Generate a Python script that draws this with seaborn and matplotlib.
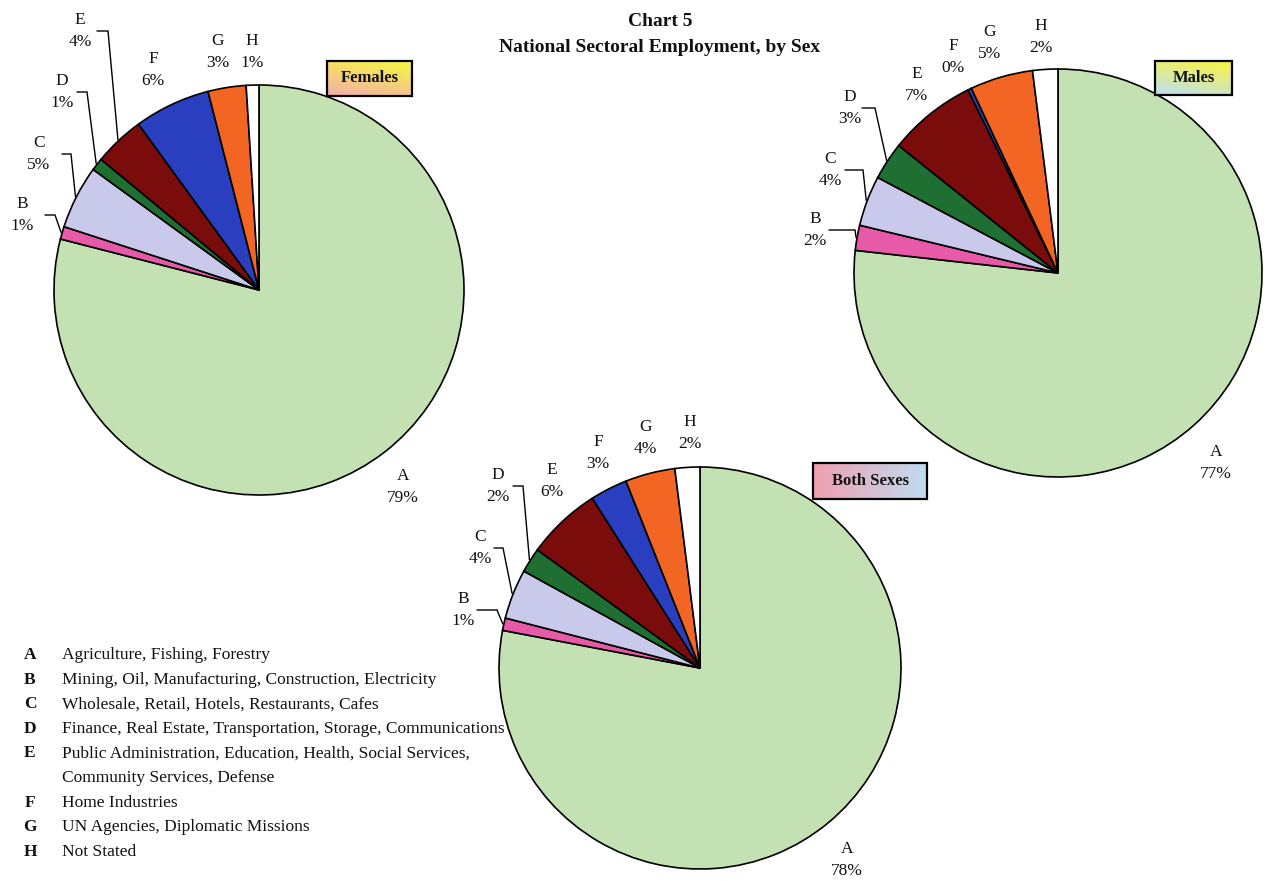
import numpy as np
import matplotlib
matplotlib.use("Agg")
import matplotlib.pyplot as plt
from matplotlib.patches import Rectangle
import seaborn as sns

# ---------------- data ----------------
categories = ["A", "B", "C", "D", "E", "F", "G", "H"]
descriptions = [
    "Agriculture, Fishing, Forestry",
    "Mining, Oil, Manufacturing, Construction, Electricity",
    "Wholesale, Retail, Hotels, Restaurants, Cafes",
    "Finance, Real Estate, Transportation, Storage, Communications",
    "Public Administration, Education, Health, Social Services,\nCommunity Services, Defense",
    "Home Industries",
    "UN Agencies, Diplomatic Missions",
    "Not Stated",
]
females = [79, 1, 5, 1, 4, 6, 3, 1]
males = [77, 2, 4, 3, 7, 0.3, 5, 2]
both_sexes = [78, 1, 4, 2, 6, 3, 4, 2]
panel_titles = ["Females", "Males", "Both Sexes"]
title_lines = ["Chart 5", "National Sectoral Employment, by Sex"]

# ---------------- style ----------------
sns.set_theme(style="white")
plt.rcParams["font.family"] = ["Liberation Serif", "DejaVu Serif"]
colors = sns.color_palette(["#c3e1b3", "#e65aa8", "#c9c9ec", "#1f6e32",
                            "#7a0c0c", "#2a3fbf", "#f26522", "#ffffff"])

W, H = 1271, 881
fig = plt.figure(figsize=(W / 100, H / 100), dpi=100)
fig.patch.set_facecolor("white")
ax = fig.add_axes([0, 0, 1, 1])


def Y(y):
    return H - y


# layout: pie centre/radius (pixels), label block centres, leader-line slices, title box
layouts = [
    dict(center=(259, 290), r=205,
         labels={"A": (403, 487), "B": (22, 215), "C": (39, 154), "D": (62, 92),
                 "E": (80, 31), "F": (153, 70), "G": (218, 52), "H": (252, 52)},
         leaders={"B": (45, 55), "C": (62, 71), "D": (77, 87), "E": (97, 108)},
         box=(327, 61, 412, 96), grad=("#f7f24a", "#f2b0a8")),
    dict(center=(1058, 273), r=204,
         labels={"A": (1216, 463), "B": (815, 230), "C": (830, 170), "D": (850, 108),
                 "E": (917, 85), "F": (953, 57), "G": (990, 43), "H": (1041, 37)},
         leaders={"B": (829, 855), "C": (845, 863), "D": (862, 875)},
         box=(1155, 61, 1232, 95), grad=("#f7f24a", "#bfe0f0")),
    dict(center=(700, 668), r=201,
         labels={"A": (847, 860), "B": (463, 610), "C": (480, 548), "D": (498, 486),
                 "E": (552, 481), "F": (598, 453), "G": (645, 438), "H": (690, 433)},
         leaders={"B": (477, 497), "C": (494, 503), "D": (513, 523)},
         box=(813, 463, 927, 499), grad=("#f0a0b0", "#c0dcf0"), horizontal=True),
]

datasets = [females, males, both_sexes]

for data, lay, ptitle in zip(datasets, layouts, panel_titles):
    cx, cy = lay["center"]
    r = lay["r"]
    vals = np.array(data, dtype=float)
    ax.pie(vals, colors=colors, startangle=90, counterclock=False,
           center=(cx, Y(cy)), radius=r,
           wedgeprops=dict(edgecolor="black", linewidth=1.2))
    frac = vals / vals.sum()
    cum = np.cumsum(frac) - frac / 2
    mid_ang = np.deg2rad(90 - 360 * cum)
    for i, cat in enumerate(categories):
        lx, ly = lay["labels"][cat]
        ax.text(lx, Y(ly), f"{cat}\n{round(data[i])}%", ha="center", va="center",
                fontsize=12.5, linespacing=1.45, color="#111111", zorder=5)
        if cat in lay["leaders"]:
            x0, x1 = lay["leaders"][cat]
            ex = cx + r * 1.005 * np.cos(mid_ang[i])
            ey = Y(cy) + r * 1.005 * np.sin(mid_ang[i])
            ax.plot([x0, x1, ex], [Y(ly), Y(ly), ey], color="black", lw=1.0,
                    solid_joinstyle="miter", zorder=4)
    # gradient title box
    bx0, by0, bx1, by1 = lay["box"]
    c0 = np.array(matplotlib.colors.to_rgb(lay["grad"][0]))
    c1 = np.array(matplotlib.colors.to_rgb(lay["grad"][1]))
    n = 64
    t = np.linspace(0, 1, n)
    if lay.get("horizontal"):
        img = (c0[None, :] * (1 - t)[:, None] + c1[None, :] * t[:, None])[None, :, :]
        img = np.repeat(img, 8, axis=0)
    else:
        tt = np.clip(t[:, None] * 0.8 + (1 - t[None, :]) * 0.35 - 0.1, 0, 1)
        img = c0[None, None, :] * (1 - tt)[:, :, None] + c1[None, None, :] * tt[:, :, None]
    ax.imshow(img, extent=(bx0, bx1, Y(by1), Y(by0)), origin="upper",
              aspect="auto", zorder=6, interpolation="bilinear")
    ax.add_patch(Rectangle((bx0, Y(by1)), bx1 - bx0, by1 - by0, fill=False,
                           edgecolor="black", lw=1.6, zorder=7))
    ax.text((bx0 + bx1) / 2, Y((by0 + by1) / 2), ptitle, ha="center", va="center",
            fontsize=12, fontweight="bold", color="#111111", zorder=8)

# title
ax.text(660, Y(22), title_lines[0], ha="center", va="center", fontsize=14,
        fontweight="bold", color="#111111")
ax.text(660, Y(47), title_lines[1], ha="center", va="center", fontsize=14,
        fontweight="bold", color="#111111")

# legend
row_y = 655
step = 24.6
for cat, desc in zip(categories, descriptions):
    lines = desc.split("\n")
    ax.text(30, Y(row_y), cat, ha="center", va="center", fontsize=12.5,
            fontweight="bold", color="#111111")
    for ln in lines:
        ax.text(62, Y(row_y), ln, ha="left", va="center", fontsize=12.5,
                color="#111111")
        row_y += step

ax.set_xlim(0, W)
ax.set_ylim(0, H)
ax.set_aspect("equal")
ax.axis("off")
fig.savefig("out.png", dpi=100, facecolor="white")
